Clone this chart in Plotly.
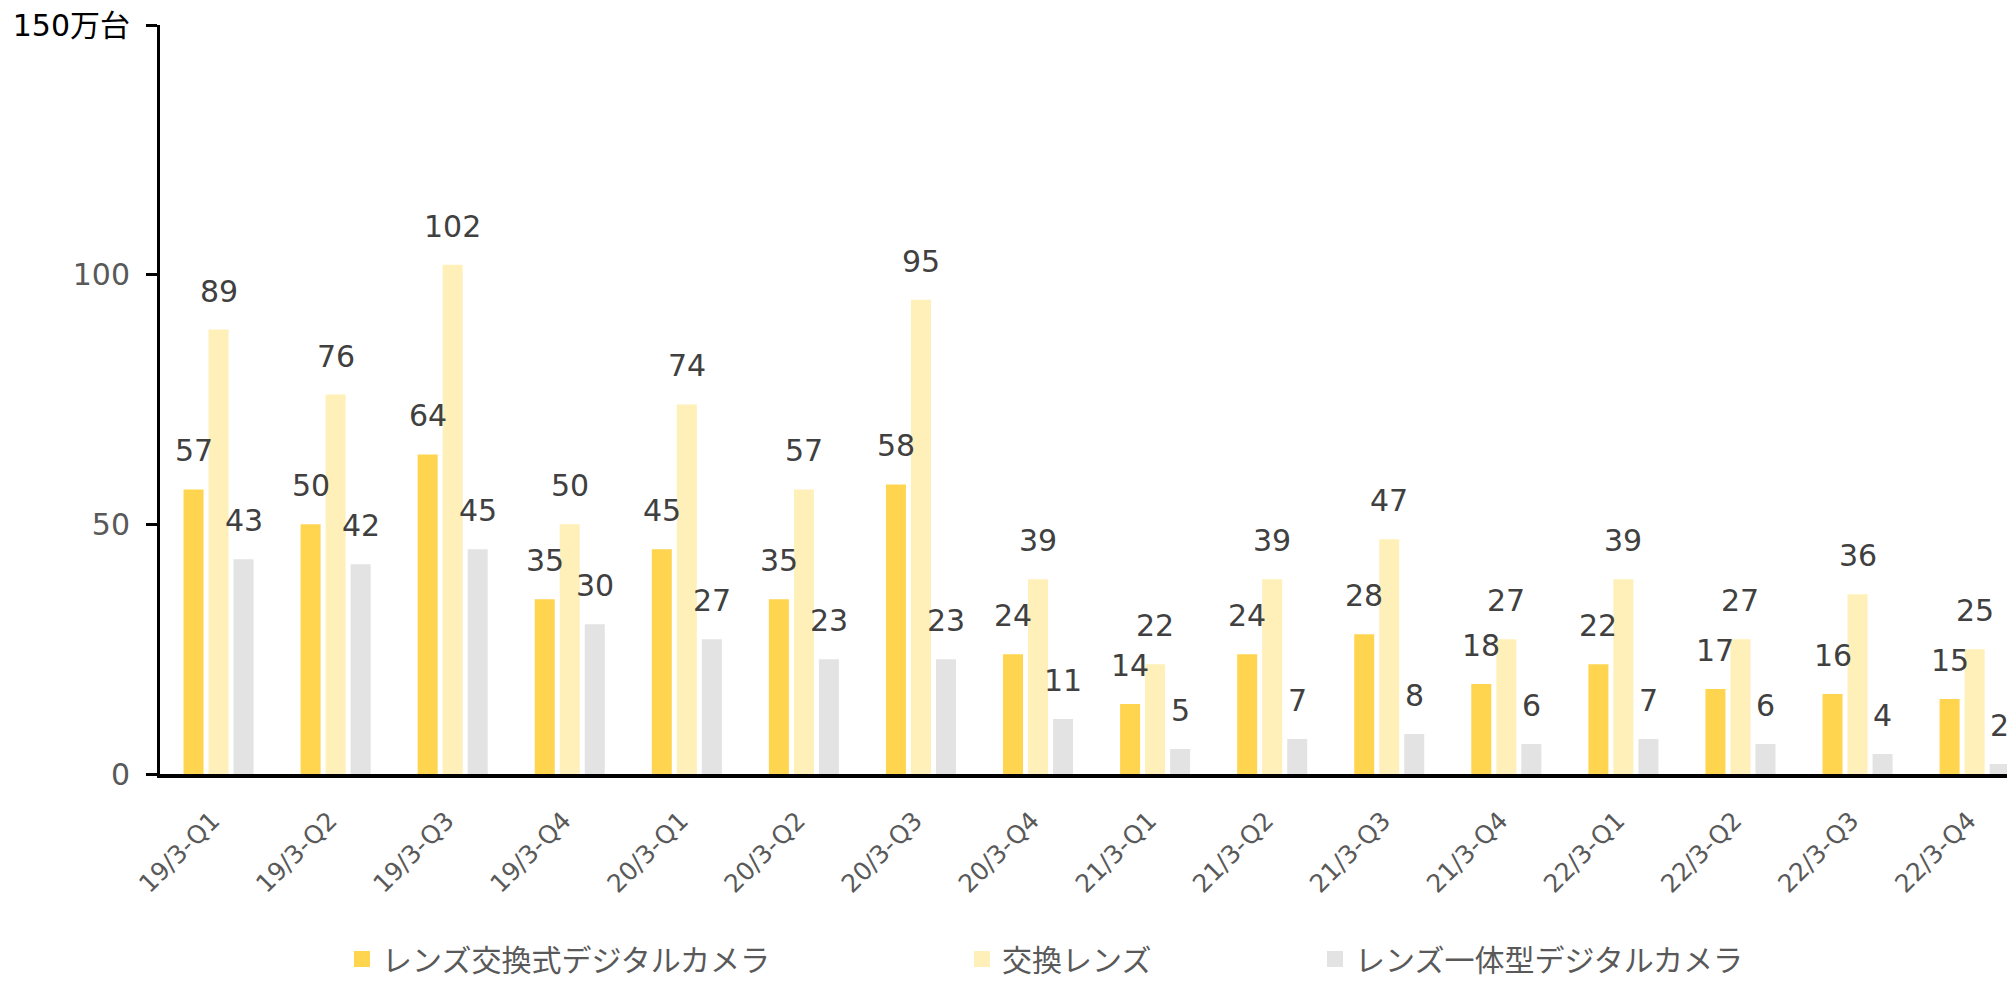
import plotly.graph_objects as go

categories = ["19/3-Q1", "19/3-Q2", "19/3-Q3", "19/3-Q4",
              "20/3-Q1", "20/3-Q2", "20/3-Q3", "20/3-Q4",
              "21/3-Q1", "21/3-Q2", "21/3-Q3", "21/3-Q4",
              "22/3-Q1", "22/3-Q2", "22/3-Q3", "22/3-Q4"]
ilc = [57, 50, 64, 35, 45, 35, 58, 24, 14, 24, 28, 18, 22, 17, 16, 15]
lenses = [89, 76, 102, 50, 74, 57, 95, 39, 22, 39, 47, 27, 39, 27, 36, 25]
fixed_lens = [43, 42, 45, 30, 27, 23, 23, 11, 5, 7, 8, 6, 7, 6, 4, 2]
series_names = ["レンズ交換式デジタルカメラ", "交換レンズ", "レンズ一体型デジタルカメラ"]
y_tickvals = [0, 50, 100, 150]
y_ticktext = ["0", "50", "100", "<span style='color:#000000'>150万台</span>"]

colors = ["#FFD54F", "#FFEFB8", "#E3E3E3"]
series = [ilc, lenses, fixed_lens]
legends = ["legend", "legend2", "legend3"]

NUM_FONT = "DejaVu Sans, Noto Sans CJK JP, sans-serif"
JP_FONT = "Noto Sans CJK JP, DejaVu Sans, sans-serif"

fig = go.Figure()
for name, vals, col in zip(series_names, series, colors):
    fig.add_trace(go.Bar(
        x=categories, y=vals, name=name, marker=dict(color=col, line=dict(width=0)),
        showlegend=False, hoverinfo="x+y+name",
    ))
# legend entries with larger square swatches
for name, col, lg in zip(series_names, colors, legends):
    fig.add_trace(go.Scatter(
        x=[None], y=[None], mode="markers", name=name, legend=lg, showlegend=True,
        marker=dict(symbol="square", size=16, color=col, line=dict(width=0)),
        hoverinfo="skip",
    ))

# data labels above each bar
slot = 25
for i, vals in enumerate(series):
    for cat, v in zip(categories, vals):
        fig.add_annotation(
            x=cat, y=v, text=str(v), showarrow=False,
            xshift=(i - 1) * slot, yshift=19, yanchor="bottom",
            font=dict(family=NUM_FONT, size=30, color="#404040"),
        )

# the page body has an 8px margin; size the figure so it fits the window
OFF = 8
W, H = 2015 - OFF, 982 - OFF
ml, mr, mt = 160 - OFF, 0, 25 - OFF
mb = H - (774 - OFF)

leg_common = dict(orientation="h", yanchor="middle", xanchor="left",
                  xref="container", yref="container", itemsizing="trace",
                  font=dict(family=JP_FONT, size=30, color="#595959"),
                  bgcolor="rgba(0,0,0,0)", itemclick=False, itemdoubleclick=False)
leg_y = 1 - (959 - OFF) / H

fig.update_layout(
    width=W, height=H,
    margin=dict(l=ml, r=mr, t=mt, b=mb, autoexpand=False),
    paper_bgcolor="white", plot_bgcolor="white",
    barmode="group", bargap=0.359, bargroupgap=0.2,
    showlegend=True,
    font=dict(family=NUM_FONT, color="#595959"),
    legend=dict(x=(342 - OFF) / W, y=leg_y, **leg_common),
    legend2=dict(x=(962 - OFF) / W, y=leg_y, **leg_common),
    legend3=dict(x=(1315 - OFF) / W, y=leg_y, **leg_common),
    xaxis=dict(
        type="category", range=[-0.5, 15.345], automargin=False,
        showline=True, linecolor="black", linewidth=4,
        ticks="", tickangle=-45, ticklabelstandoff=18, ticklabelshift=-6,
        tickfont=dict(family=NUM_FONT, size=25, color="#595959"),
        showgrid=False, zeroline=False,
    ),
    yaxis=dict(
        range=[0, 150], tickvals=y_tickvals, ticktext=y_ticktext, automargin=False,
        showline=True, linecolor="black", linewidth=3,
        ticks="outside", ticklen=11, tickwidth=3, tickcolor="black",
        tickfont=dict(family=NUM_FONT, size=30, color="#595959"),
        ticklabelstandoff=10, ticklabeloverflow="allow",
        showgrid=False, zeroline=False,
    ),
)

fig.write_html("out.html")
